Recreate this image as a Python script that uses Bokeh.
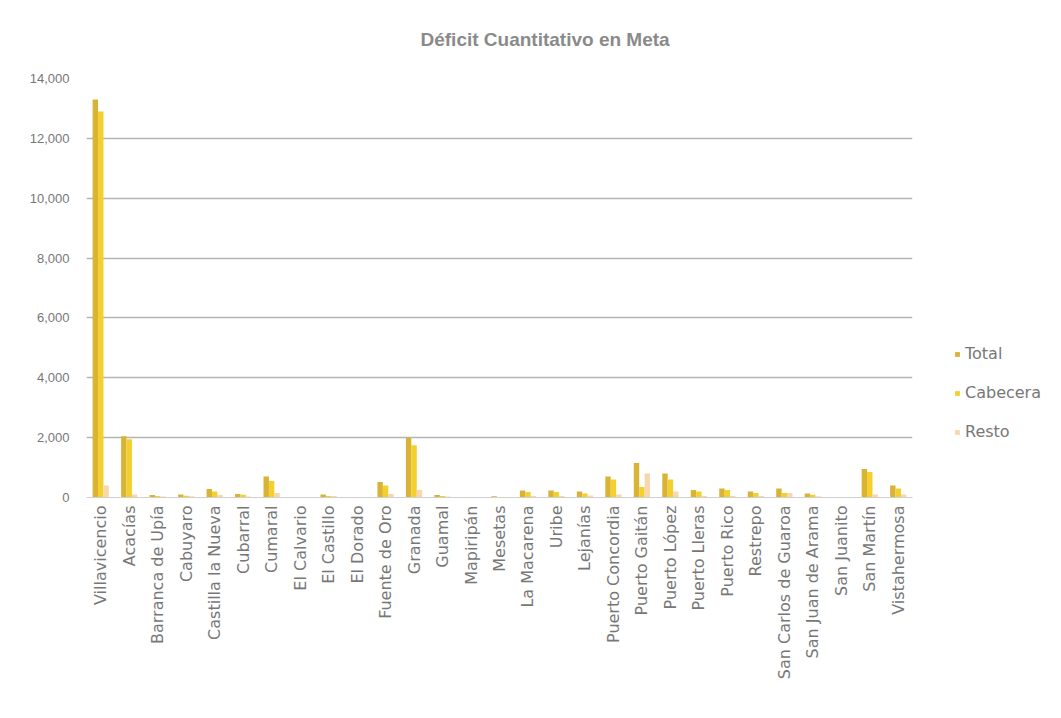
import math
from bokeh.plotting import figure
from bokeh.models import ColumnDataSource, FactorRange, NumeralTickFormatter, Legend, LegendItem, Range1d
from bokeh.transform import dodge
from bokeh.embed import file_html
from bokeh.resources import INLINE

municipios = ["Villavicencio", "Acacías", "Barranca de Upía", "Cabuyaro", "Castilla la Nueva",
              "Cubarral", "Cumaral", "El Calvario", "El Castillo", "El Dorado", "Fuente de Oro",
              "Granada", "Guamal", "Mapiripán", "Mesetas", "La Macarena", "Uribe", "Lejanías",
              "Puerto Concordia", "Puerto Gaitán", "Puerto López", "Puerto Lleras", "Puerto Rico",
              "Restrepo", "San Carlos de Guaroa", "San Juan de Arama", "San Juanito", "San Martín",
              "Vistahermosa"]
total = [13300, 2050, 80, 100, 280, 120, 700, 20, 100, 20, 520, 2000, 80, 10, 40, 230, 230, 200,
         700, 1150, 800, 250, 300, 200, 300, 130, 10, 950, 400]
cabecera = [12900, 1950, 50, 60, 200, 90, 550, 10, 50, 10, 400, 1750, 50, 5, 20, 180, 180, 130,
            600, 350, 600, 200, 250, 150, 150, 90, 5, 850, 300]
resto = [400, 100, 30, 40, 80, 30, 150, 10, 50, 10, 120, 250, 30, 5, 20, 50, 50, 70,
         100, 800, 200, 50, 50, 50, 150, 40, 5, 100, 100]
series = ["Total", "Cabecera", "Resto"]
colors = ["#D8B335", "#F4D02E", "#F6D8AC"]
y_ticks = [0, 2000, 4000, 6000, 8000, 10000, 12000, 14000]

src = ColumnDataSource(dict(m=municipios, Total=total, Cabecera=cabecera, Resto=resto))

p = figure(x_range=FactorRange(*municipios, range_padding=0), y_range=Range1d(0, 14000),
           frame_width=826, frame_height=419, min_border_left=86, min_border_top=78,
           min_border_right=140, min_border_bottom=210,
           output_backend="svg", toolbar_location=None,
           title="Déficit Cuantitativo en Meta")

offs = [-0.19, 0.0, 0.19]
rs = []
for s, c, o in zip(series, colors, offs):
    r = p.vbar(x=dodge("m", o, range=p.x_range), top=s, width=0.19, source=src,
               fill_color=c, line_color=None)
    rs.append(r)

p.title.align = "left"
p.title.offset = 334
p.title.text_font = "Liberation Sans"
p.title.text_font_size = "19px"
p.title.text_font_style = "bold"
p.title.text_color = "#8a8a8a"
p.title.standoff = 54
p.title.vertical_align = "top"

p.outline_line_color = None
p.background_fill_color = "white"
p.border_fill_color = "white"

p.xgrid.grid_line_color = None
p.ygrid.grid_line_color = "#b5b5b5"
p.ygrid.grid_line_width = 1.5
p.yaxis.ticker = y_ticks
p.yaxis.formatter = NumeralTickFormatter(format="0,0")
p.yaxis.axis_line_color = None
p.yaxis.major_tick_line_color = None
p.yaxis.minor_tick_line_color = None
p.yaxis.major_label_text_font = "Liberation Sans"
p.yaxis.major_label_text_font_size = "13px"
p.yaxis.major_label_text_color = "#777777"
p.yaxis.major_label_standoff = 11

p.xaxis.axis_line_color = "#d0d0d0"
p.xaxis.major_tick_line_color = None
p.xaxis.minor_tick_line_color = None
p.xaxis.major_label_orientation = math.pi / 2
p.xaxis.major_label_text_font = "DejaVu Sans"
p.xaxis.major_label_text_font_size = "16px"
p.xaxis.major_label_text_color = "#777777"
p.xaxis.major_label_standoff = 2

legend = Legend(items=[LegendItem(label=s, renderers=[r]) for s, r in zip(series, rs)],
                location=(42, 56), label_text_font="DejaVu Sans", label_text_font_size="16px",
                label_text_color="#777777", glyph_width=6, glyph_height=6, spacing=20,
                label_standoff=5, border_line_color=None, background_fill_alpha=0,
                padding=0, margin=0)
p.add_layout(legend, "right")

open("out.html", "w").write(file_html(p, INLINE))
